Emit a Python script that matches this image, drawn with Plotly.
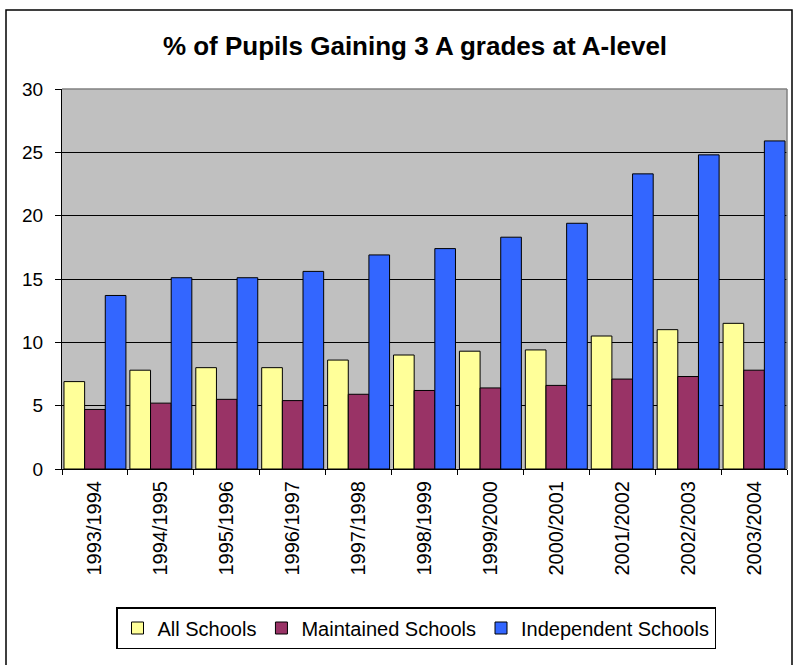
import plotly.graph_objects as go

years = ["1993/1994", "1994/1995", "1995/1996", "1996/1997", "1997/1998", "1998/1999",
         "1999/2000", "2000/2001", "2001/2002", "2002/2003", "2003/2004"]
all_schools = [6.9, 7.8, 8.0, 8.0, 8.6, 9.0, 9.3, 9.4, 10.5, 11.0, 11.5]
maintained = [4.7, 5.2, 5.5, 5.4, 5.9, 6.2, 6.4, 6.6, 7.1, 7.3, 7.8]
independent = [13.7, 15.1, 15.1, 15.6, 16.9, 17.4, 18.3, 19.4, 23.3, 24.8, 25.9]

series_names = ["All Schools", "Maintained Schools", "Independent Schools"]
series_colors = ["#FFFF99", "#993366", "#3366FF"]

W, H = 797, 665
L, R, T, B = 62, 10, 89, 196
pw, ph = W - L - R, H - T - B

def px_x(x):
    return (x - L) / pw

def px_y(y):
    return (H - B - y) / ph

fig = go.Figure()
for name, vals, col in zip(series_names, [all_schools, maintained, independent], series_colors):
    fig.add_trace(go.Bar(x=years, y=vals, name=name,
                         marker=dict(color=col, line=dict(color="black", width=1))))

font_family = "Arial, Liberation Sans, sans-serif"

fig.update_layout(
    width=W, height=H,
    margin=dict(l=L, r=R, t=T, b=B),
    paper_bgcolor="white",
    plot_bgcolor="#C0C0C0",
    barmode="group",
    bargap=0.06,
    bargroupgap=0,
    font=dict(family=font_family, color="black", size=17),
    title=dict(text="<b>% of Pupils Gaining 3 A grades at A-level</b>",
               font=dict(size=26, family=font_family, color="black"),
               x=px_x(415), xref="paper", xanchor="center",
               y=1 - 46 / H, yref="container", yanchor="middle"),
    showlegend=True,
    legend=dict(orientation="h", x=px_x(116), xanchor="left",
                y=px_y(607), yanchor="top",
                bordercolor="black", borderwidth=1.5, bgcolor="white",
                font=dict(size=20, family=font_family), traceorder="normal"),
    xaxis=dict(type="category", tickangle=-90, tickson="boundaries", ticks="outside",
               ticklen=5, tickcolor="black", showline=True, linecolor="black", linewidth=1,
               showgrid=False, tickfont=dict(size=20), ticklabelstandoff=3),
    yaxis=dict(range=[0, 30], dtick=5, ticks="outside", ticklen=6, tickcolor="black",
               showline=True, linecolor="black", linewidth=1,
               gridcolor="black", gridwidth=1, zeroline=False,
               tickfont=dict(size=19), ticklabelstandoff=8),
)

# plot-area border (grey top/right)
fig.add_shape(type="line", xref="paper", yref="paper", x0=0, x1=1, y0=1, y1=1,
              line=dict(color="#808080", width=1.5), layer="above")
fig.add_shape(type="line", xref="paper", yref="paper", x0=1, x1=1, y0=0, y1=1,
              line=dict(color="#808080", width=1.5), layer="above")
# outer chart border
fig.add_shape(type="rect", xref="paper", yref="paper",
              x0=px_x(6), x1=px_x(792), y0=px_y(680), y1=px_y(10),
              line=dict(color="black", width=1.5), fillcolor="rgba(0,0,0,0)", layer="above")

fig.write_html("out.html")
